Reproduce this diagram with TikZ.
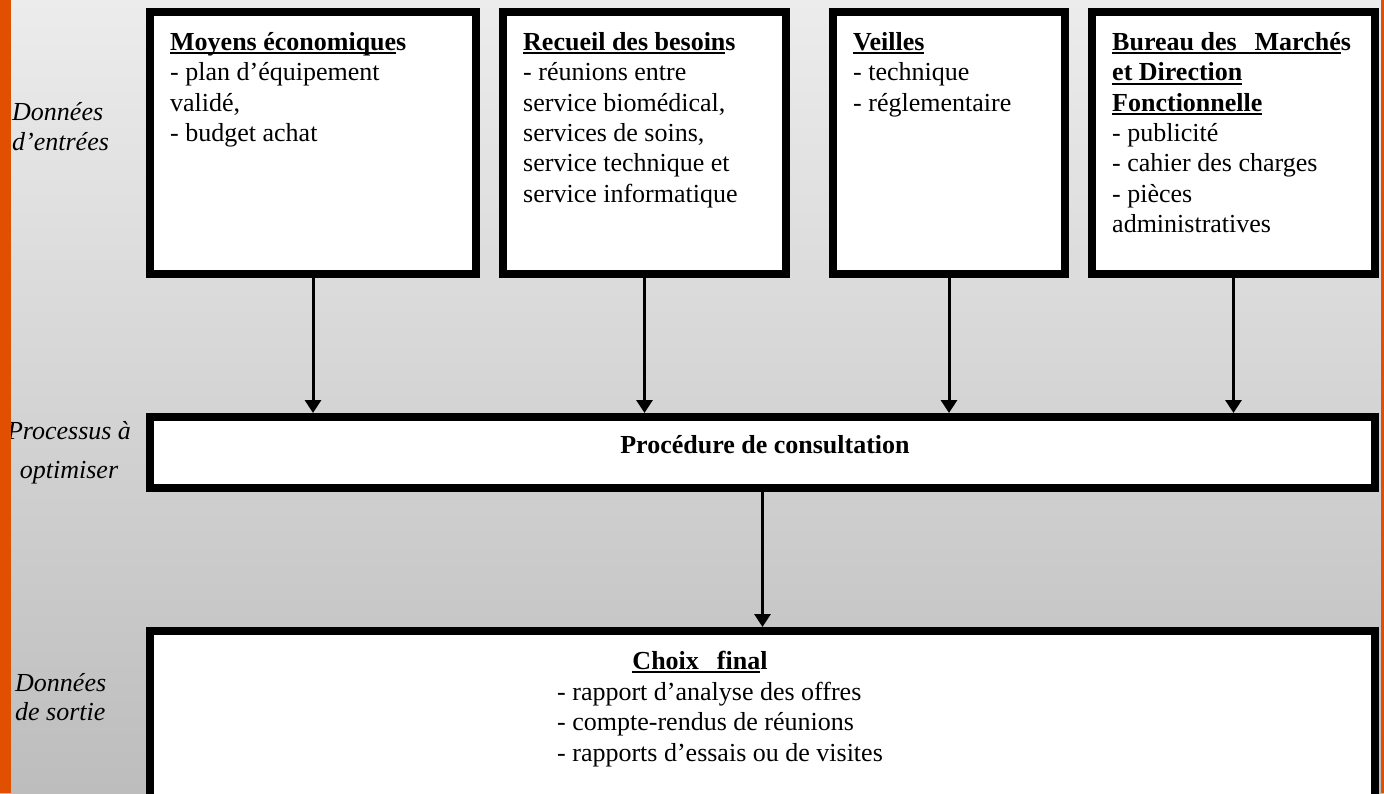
\documentclass[tikz,border=0pt]{standalone}
\usepackage{fontspec}
\setmainfont{Liberation Serif}
\usetikzlibrary{arrows.meta}
\definecolor{orangebar}{RGB}{224,80,0}
\definecolor{bgtop}{RGB}{236,236,236}
\definecolor{bgbot}{RGB}{189,189,189}
\newcommand\myul[1]{\leavevmode\setbox0\hbox{#1}\rlap{\rule[-4pt]{\wd0}{2pt}}\box0}
\begin{document}
\begin{tikzpicture}[x=1pt,y=-1pt,
  boxst/.style={draw=black,line width=8pt,fill=white,inner sep=0pt},
  txt/.style={anchor=north west,inner sep=0pt,align=left,font=\fontsize{26}{30.4}\selectfont},
  link/.style={line width=3pt,-{Triangle[width=16pt,length=13pt]}}]
\useasboundingbox (0,0) rectangle (1384,793);
\clip (0,0) rectangle (1384,793);
\shade[top color=bgtop,bottom color=bgbot] (0,0) rectangle (1384,793);

% input boxes
\node[boxst,minimum width=326pt,minimum height=262pt] (b1) at (313,143) {};
\node[boxst,minimum width=283pt,minimum height=262pt] (b2) at (644.5,143) {};
\node[boxst,minimum width=232pt,minimum height=262pt] (b3) at (949,143) {};
\node[boxst,minimum width=283pt,minimum height=262pt] (b4) at (1233.5,143) {};
% process box
\node[boxst,minimum width=1225pt,minimum height=71pt] (pr) at (762.5,452.5) {};
% output box
\node[boxst,minimum width=1225pt,minimum height=200pt] (bt) at (762.5,731) {};

% texts
\node[txt] (t1) at (170,26) {\rule{0pt}{24pt}\myul{\textbf{Moyens économique}}\textbf{s}\\- plan d’équipement\\validé,\\- budget achat};
\node[txt] (t2) at (523,26) {\rule{0pt}{24pt}\myul{\textbf{Recueil des besoin}}\textbf{s}\\- réunions entre\\service biomédical,\\services de soins,\\service technique et\\service informatique};
\node[txt] (t3) at (853,26) {\rule{0pt}{24pt}\myul{\textbf{Veilles}}\\- technique\\- réglementaire};
\node[txt] (t4) at (1112,26) {\rule{0pt}{24pt}\myul{\textbf{Bureau des\hspace{18pt}Marché}}\textbf{s}\\\myul{\textbf{et Direction}}\\\myul{\textbf{Fonctionnelle}}\\- publicité\\- cahier des charges\\- pièces\\administratives};
\node[anchor=base,inner sep=0pt,font=\fontsize{26}{30.4}\selectfont\bfseries] (tp) at (765,453) {Procédure de consultation};
\node[anchor=base,inner sep=0pt,font=\fontsize{26}{30.4}\selectfont] (tc) at (700,669) {\myul{\textbf{Choix\hspace{18pt}fina}}\textbf{l}};
\node[txt] (tl) at (557,676) {\rule{0pt}{24pt}- rapport d’analyse des offres\\- compte-rendus de réunions\\- rapports d’essais ou de visites};

% side labels
\node[txt,font=\fontsize{26}{30}\selectfont\itshape] (s1) at (12,96) {\rule{0pt}{24pt}Données\\d’entrées};
\node[anchor=north,inner sep=0pt,align=center,font=\fontsize{26}{39}\selectfont\itshape] (s2) at (69,415) {\rule{0pt}{24pt}Processus à\\optimiser};
\node[txt,font=\fontsize{26}{29}\selectfont\itshape] (s3) at (15,667) {\rule{0pt}{24pt}Données\\de sortie};

% connectors
\draw[link] (b1.south) -- (b1.south |- pr.north);
\draw[link] (b2.south) -- (b2.south |- pr.north);
\draw[link] (b3.south) -- (b3.south |- pr.north);
\draw[link] (b4.south) -- (b4.south |- pr.north);
\draw[link] (pr.south) -- (bt.north);

% orange side bars
\fill[orangebar] (0,0) rectangle (11,793);
\fill[orangebar] (1381,0) rectangle (1384,793);
\end{tikzpicture}
\end{document}
